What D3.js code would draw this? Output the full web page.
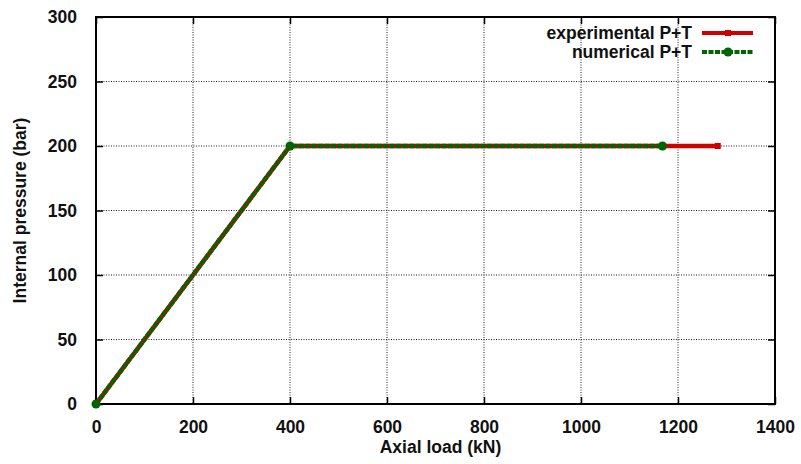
<!DOCTYPE html>
<html>
  <head>
    <script src="https://d3js.org/d3.v7.min.js"></script>
    <style>
      html, body {
        margin: 0;
        padding: 0;
        overflow: hidden;
        background: #fff;
      }
      text {
        font-family: "Liberation Sans", Arial, sans-serif;
        font-weight: bold;
        font-size: 17.5px;
        fill: #111;
      }
      .grid line {
        stroke: #222;
        stroke-width: 1;
        stroke-dasharray: 1,1.5;
      }
    </style>
  </head>
  <body>
    <div id="chart"></div>
    <script>
      // series
      const expLoad = [0, 400, 1282];
      const expPressure = [0, 200, 200];
      const numLoad = [0, 400, 1168];
      const numPressure = [0, 200, 200];

      const xTicks = [0, 200, 400, 600, 800, 1000, 1200, 1400];
      const yTicks = [0, 50, 100, 150, 200, 250, 300];
      const seriesNames = ["experimental P+T", "numerical P+T"];

      const width = 801, height = 464;
      const margin = { top: 17, right: 26, bottom: 60, left: 96 };
      const iw = width - margin.left - margin.right;
      const ih = height - margin.top - margin.bottom;

      const svg = d3.select("#chart").append("svg")
        .attr("width", width)
        .attr("height", height);

      const g = svg.append("g")
        .attr("transform", `translate(${margin.left},${margin.top})`);

      const x = d3.scaleLinear().domain([0, 1400]).range([0, iw]);
      const y = d3.scaleLinear().domain([0, 300]).range([ih, 0]);
      const fmt = d3.format("d");

      // dotted grid
      const grid = g.append("g").attr("class", "grid");
      grid.selectAll(".gx").data(xTicks.slice(1, -1)).enter().append("line")
        .attr("x1", d => x(d)).attr("x2", d => x(d))
        .attr("y1", 0).attr("y2", ih);
      grid.selectAll(".gy").data(yTicks.slice(1, -1)).enter().append("line")
        .attr("x1", 0).attr("x2", iw)
        .attr("y1", d => y(d)).attr("y2", d => y(d));

      // inward ticks on all four sides (gnuplot style)
      const tickLen = 7;
      const axisStyle = sel => {
        sel.select(".domain").remove();
        sel.selectAll(".tick line").attr("stroke", "#000").attr("stroke-width", 1.5);
        sel.selectAll("text").style("font-size", "17.5px");
      };
      g.append("g").attr("transform", `translate(0,${ih})`)
        .call(d3.axisBottom(x).tickValues(xTicks).tickFormat(fmt).tickSize(-tickLen).tickPadding(17))
        .call(axisStyle)
        .selectAll("text").attr("fill", "#111");
      g.append("g").attr("transform", "translate(0,0)")
        .call(d3.axisTop(x).tickValues(xTicks).tickSize(-tickLen).tickFormat(""))
        .call(axisStyle);
      g.append("g")
        .call(d3.axisLeft(y).tickValues(yTicks).tickFormat(fmt).tickSize(-tickLen).tickPadding(19))
        .call(axisStyle)
        .selectAll("text").attr("fill", "#111");
      g.append("g").attr("transform", `translate(${iw},0)`)
        .call(d3.axisRight(y).tickValues(yTicks).tickSize(-tickLen).tickFormat(""))
        .call(axisStyle);

      // frame
      g.append("rect")
        .attr("width", iw).attr("height", ih)
        .attr("fill", "none").attr("stroke", "#000").attr("stroke-width", 2);

      const line = d3.line().x(d => x(d[0])).y(d => y(d[1]));
      const expData = d3.zip(expLoad, expPressure);
      const numData = d3.zip(numLoad, numPressure);

      const red = "#cc0000", green = "#006400";

      // experimental
      g.append("path").datum(expData)
        .attr("d", line).attr("fill", "none")
        .attr("stroke", red).attr("stroke-width", 4.5);
      g.selectAll(".ep").data(expData).enter().append("rect")
        .attr("x", d => x(d[0]) - 3).attr("y", d => y(d[1]) - 3)
        .attr("width", 6).attr("height", 6).attr("fill", red);

      // numerical
      g.append("path").datum(numData)
        .attr("d", line).attr("fill", "none")
        .attr("stroke", green).attr("stroke-width", 4.5)
        .attr("stroke-dasharray", "5,1.5");
      g.selectAll(".np").data(numData).enter().append("circle")
        .attr("cx", d => x(d[0])).attr("cy", d => y(d[1]))
        .attr("r", 4.5).attr("fill", green);

      // legend
      const legend = svg.append("g");
      const rows = [
        { name: seriesNames[0], color: red, dash: null, marker: "square" },
        { name: seriesNames[1], color: green, dash: "5,1.5", marker: "circle" }
      ];
      rows.forEach((r, i) => {
        const ly = 33 + i * 19;
        legend.append("text")
          .attr("x", 692).attr("y", ly + 5.5)
          .attr("text-anchor", "end")
          .text(r.name);
        legend.append("line")
          .attr("x1", 702).attr("x2", 753)
          .attr("y1", ly).attr("y2", ly)
          .attr("stroke", r.color).attr("stroke-width", 4)
          .attr("stroke-dasharray", r.dash);
        if (r.marker === "square") {
          legend.append("rect")
            .attr("x", 725).attr("y", ly - 3)
            .attr("width", 6).attr("height", 6).attr("fill", r.color);
        } else {
          legend.append("circle")
            .attr("cx", 728).attr("cy", ly).attr("r", 4.5).attr("fill", r.color);
        }
      });

      // axis titles
      svg.append("text")
        .attr("x", margin.left + iw / 2 + 5).attr("y", 453)
        .attr("text-anchor", "middle")
        .text("Axial load (kN)");
      svg.append("text")
        .attr("transform", `translate(26,${margin.top + ih / 2}) rotate(-90)`)
        .attr("text-anchor", "middle")
        .text("Internal pressure (bar)");
    </script>
  </body>
</html>
